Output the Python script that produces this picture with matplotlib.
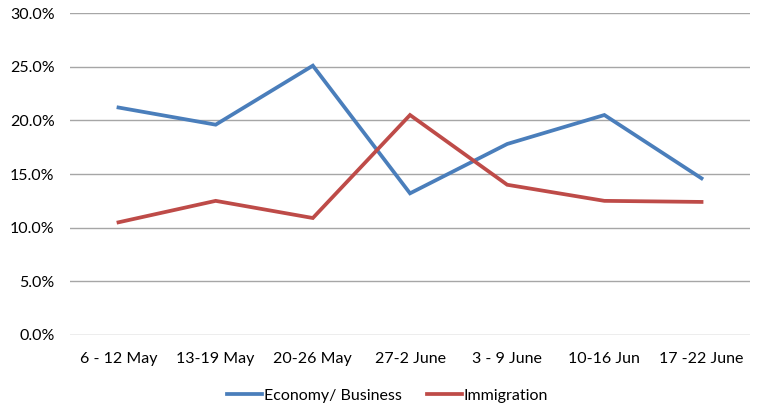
import matplotlib.pyplot as plt
from matplotlib.ticker import PercentFormatter

weeks = ["6 - 12 May", "13-19 May", "20-26 May", "27-2 June", "3 - 9 June", "10-16 Jun", "17 -22 June"]
economy = [21.2, 19.6, 25.1, 13.2, 17.8, 20.5, 14.6]
immigration = [10.5, 12.5, 10.9, 20.5, 14.0, 12.5, 12.4]

plt.rcParams['font.family'] = ['Lato', 'DejaVu Sans']

fig = plt.figure(figsize=(7.6, 4.09), dpi=100)
ax = fig.add_axes([0.092, 0.181, 0.895, 0.787])

x = range(len(weeks))
ax.plot(x, economy, color='#4A7EBB', lw=2.7, label='Economy/ Business', solid_joinstyle='miter')
ax.plot(x, immigration, color='#BE4B48', lw=2.7, label='Immigration', solid_joinstyle='miter')

ax.set_ylim(0, 30)
ax.set_yticks(range(0, 31, 5))
ax.yaxis.set_major_formatter(PercentFormatter(decimals=1))
ax.set_xlim(-0.5, len(weeks) - 0.5)
ax.set_xticks(list(x))
ax.set_xticklabels(weeks)
ax.grid(axis='y', color='#A6A6A6', lw=1)
ax.set_axisbelow(True)
for s in ax.spines.values():
    s.set_visible(False)
ax.tick_params(length=0, labelsize=11.5, colors='black')
ax.tick_params(axis='x', pad=12)
ax.tick_params(axis='y', pad=11)

fig.legend(loc='center', bbox_to_anchor=(0.51, 0.032), ncol=2, frameon=False,
           fontsize=11.5, handlelength=2.2, handletextpad=0.1, columnspacing=1.6)

plt.savefig('out.png', dpi=100)
